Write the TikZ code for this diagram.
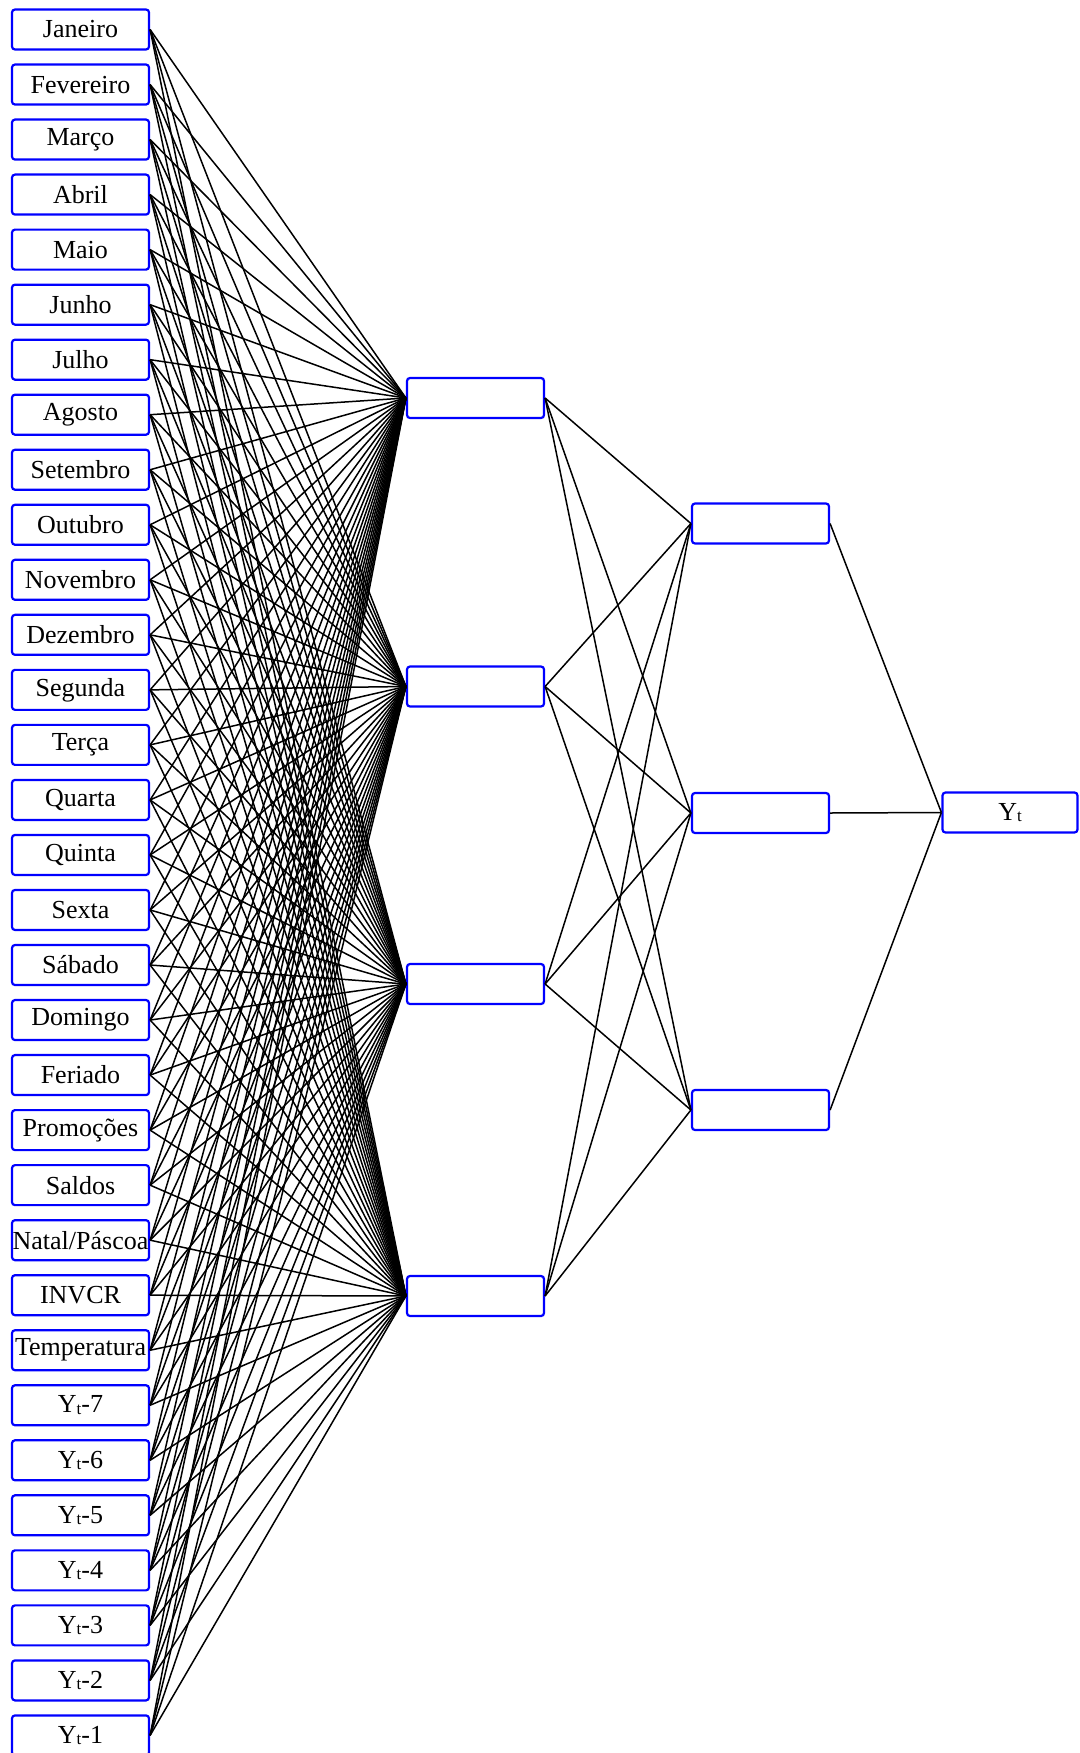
\documentclass[tikz,border=0pt]{standalone}
\usepackage{fontspec}
\setmainfont{Liberation Serif}
\newcommand{\subt}{\raisebox{-1.5pt}{\fontsize{17}{17}\selectfont t}}
\begin{document}
\begin{tikzpicture}[x=1pt,y=-1pt,
  unit/.style={draw=blue, line width=2.2pt, rounded corners=3pt,
    minimum width=137pt, minimum height=40pt, inner sep=0pt, fill=white,
    font=\fontsize{26}{26}\selectfont},
  link/.style={black, line width=1.5pt}]
\useasboundingbox (0,0) rectangle (1079,1753);
% input layer
\foreach \t [count=\i] in {Janeiro,Fevereiro,Março,Abril,Maio,Junho,Julho,Agosto,
  Setembro,Outubro,Novembro,Dezembro,Segunda,Terça,Quarta,Quinta,Sexta,Sábado,
  Domingo,Feriado,Promoções,Saldos,Natal/Páscoa,INVCR,Temperatura,
  Y\subt-7,Y\subt-6,Y\subt-5,Y\subt-4,Y\subt-3,Y\subt-2,Y\subt-1}
  \node[unit] (in\i) at (80.5,{29.5+(\i-1)*55.03}) {\t};
% first hidden layer
\node[unit] (ha1) at (475.5,398) {};
\node[unit] (ha2) at (475.5,686.5) {};
\node[unit] (ha3) at (475.5,984) {};
\node[unit] (ha4) at (475.5,1296) {};
% second hidden layer
\node[unit] (hb1) at (760.5,523.5) {};
\node[unit] (hb2) at (760.5,813) {};
\node[unit] (hb3) at (760.5,1110) {};
% output
\node[unit, minimum width=135pt] (out) at (1010,812.5) {Y\subt};
% connections
\foreach \i in {1,...,32}
  \foreach \j in {1,...,4}
    \draw[link] (in\i.east) -- (ha\j.west);
\foreach \i in {1,...,4}
  \foreach \j in {1,...,3}
    \draw[link] (ha\i.east) -- (hb\j.west);
\foreach \j in {1,...,3}
  \draw[link] (hb\j.east) -- (out.west);
\end{tikzpicture}
\end{document}
